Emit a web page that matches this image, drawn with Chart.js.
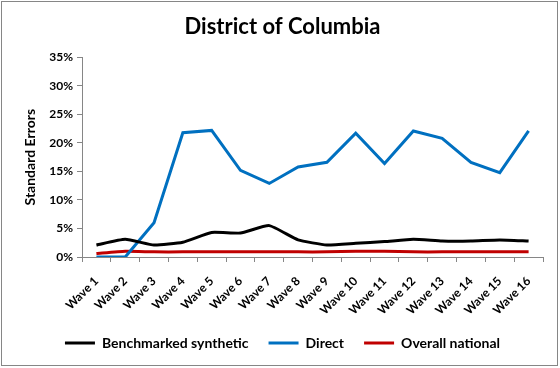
<!DOCTYPE html>
<html>
<head>
<meta charset="utf-8">
<script src="https://cdn.jsdelivr.net/npm/chart.js@4"></script>
<style>
  html, body { margin: 0; padding: 0; background: #fff; }
  #wrap { position: relative; width: 560px; height: 368px; }
  #frame { position: absolute; left: 1px; top: 1px; width: 555px; height: 363px;
           border: 1px solid #868686; pointer-events: none; }
  canvas { position: absolute; left: 0; top: 0; }
</style>
</head>
<body>
<div id="wrap">
  <canvas id="chart" width="560" height="368"></canvas>
  <div id="frame"></div>
</div>
<script>
  var waves = ["Wave 1", "Wave 2", "Wave 3", "Wave 4", "Wave 5", "Wave 6", "Wave 7", "Wave 8",
               "Wave 9", "Wave 10", "Wave 11", "Wave 12", "Wave 13", "Wave 14", "Wave 15", "Wave 16"];
  var benchmarked = [2.1, 3.1, 2.1, 2.6, 4.3, 4.2, 5.5, 3.0, 2.1, 2.4, 2.7, 3.1, 2.8, 2.8, 3.0, 2.8];
  var direct = [0, 0, 6.0, 21.8, 22.2, 15.2, 12.9, 15.8, 16.6, 21.7, 16.4, 22.1, 20.8, 16.6, 14.8, 22.1];
  var national = [0.6, 1.0, 0.9, 0.9, 0.9, 0.9, 0.9, 0.9, 0.9, 1.0, 1.0, 0.9, 0.9, 0.9, 0.9, 0.9];

  var axisGray = "#868686";
  Chart.defaults.font.family = "Lato, 'Open Sans', sans-serif";
  Chart.defaults.font.weight = "bold";
  Chart.defaults.color = "#000";

  function series(label, values, color, tension) {
    return {
      label: label,
      data: values,
      borderColor: color,
      backgroundColor: color,
      borderWidth: 3,
      pointRadius: 0,
      tension: tension,
      fill: false
    };
  }

  new Chart(document.getElementById("chart").getContext("2d"), {
    type: "line",
    data: {
      labels: waves,
      datasets: [
        series("Benchmarked synthetic", benchmarked, "#000000", 0.15),
        series("Direct", direct, "#0070C0", 0),
        series("Overall national", national, "#C00000", 0.15)
      ]
    },
    options: {
      responsive: false,
      animation: false,
      layout: { padding: { left: 22, right: 17, top: 0, bottom: 8 } },
      plugins: {
        title: {
          display: true,
          text: "District of Columbia",
          font: { size: 22, weight: "bold" },
          color: "#000",
          padding: { top: 14, bottom: 17 }
        },
        legend: {
          position: "bottom",
          labels: {
            usePointStyle: true,
            pointStyle: "line",
            pointStyleWidth: 30,
            boxHeight: 3,
            font: { size: 14, weight: "bold" },
            padding: 20
          }
        },
        tooltip: { enabled: false }
      },
      scales: {
        x: {
          offset: true,
          afterFit: function (s) { s.height = 59; },
          grid: { display: true, offset: true, drawOnChartArea: false, color: axisGray, tickLength: 5 },
          border: { color: axisGray, width: 1 },
          ticks: { maxRotation: 45, minRotation: 45, font: { size: 12, weight: "bold" }, padding: 12 }
        },
        y: {
          min: 0,
          max: 35,
          afterFit: function (s) { s.width = 60; },
          grid: { display: true, drawOnChartArea: false, color: axisGray, tickLength: 5 },
          border: { color: axisGray, width: 1 },
          ticks: {
            stepSize: 5,
            font: { size: 12, weight: "bold" },
            padding: 4,
            callback: function (v) { return v + "%"; }
          },
          title: {
            display: true,
            text: "Standard Errors",
            font: { size: 14, weight: "bold" },
            padding: { top: 0, bottom: 6 }
          }
        }
      }
    }
  });
</script>
</body>
</html>
